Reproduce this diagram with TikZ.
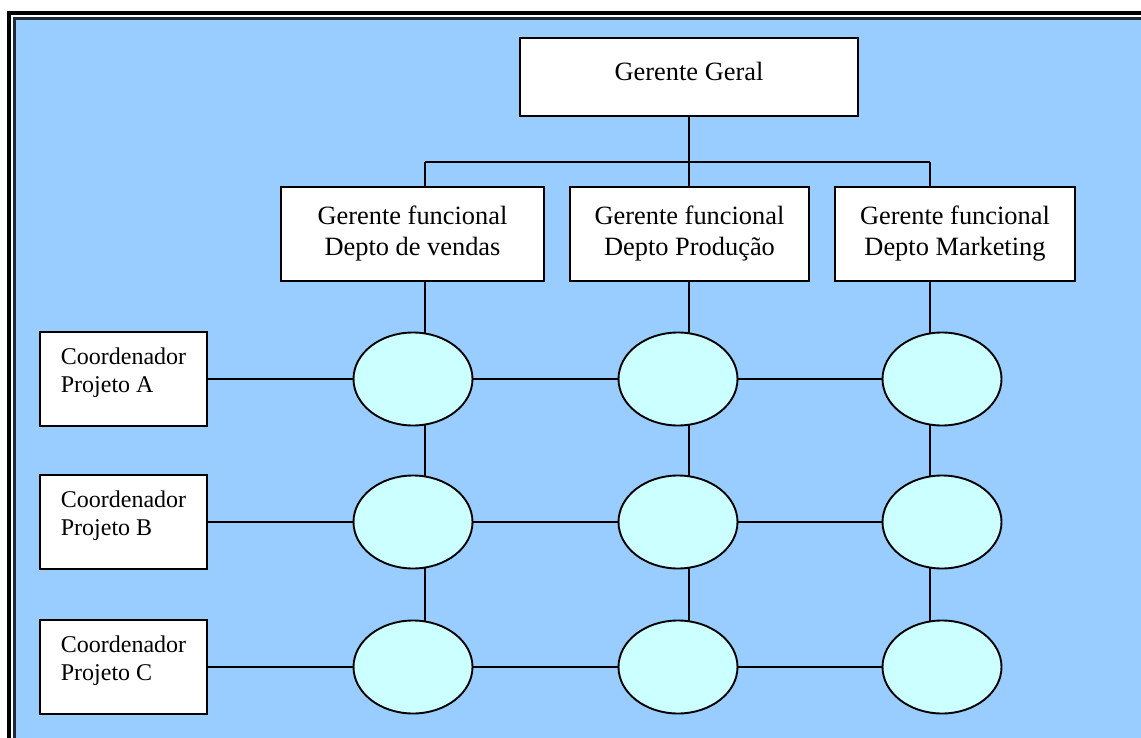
\documentclass[tikz,border=0pt]{standalone}
\usepackage{fontspec}
\setmainfont{Liberation Serif}
\usetikzlibrary{shapes.geometric,backgrounds}
\definecolor{fundo}{HTML}{99CCFF}
\definecolor{celfill}{HTML}{CCFFFF}
\definecolor{moldura}{HTML}{1F2A36}
\begin{document}
\begin{tikzpicture}[x=1pt, y=-1pt,
  caixa/.style={draw, fill=white, line width=1.9pt, inner sep=0pt, align=center, font=\fontsize{26.4}{31}\selectfont},
  coordbox/.style={draw, fill=white, line width=1.9pt, inner sep=0pt, align=left, minimum width=167pt, minimum height=94pt, text depth=17pt, font=\fontsize{24}{28}\selectfont},
  cel/.style={ellipse, draw, fill=celfill, line width=1.9pt, inner sep=0pt, minimum width=119pt, minimum height=93pt},
  liga/.style={line width=1.9pt}]
\useasboundingbox (0,0) rectangle (1141,738);
\node[caixa, minimum width=338pt, minimum height=78pt, text depth=12pt] (ger0) at (689,77){Gerente Geral};
\node[caixa, minimum width=263pt, minimum height=94pt] (dep1) at (412.5,234){Gerente funcional\\Depto de vendas};
\node[caixa, minimum width=239pt, minimum height=94pt] (dep2) at (689.5,234){Gerente funcional\\Depto Produção};
\node[caixa, minimum width=240pt, minimum height=94pt] (dep3) at (955,234){Gerente funcional\\Depto Marketing};
\node[coordbox] (prj1) at (123.5,379){Coordenador\\Projeto A};
\node[coordbox] (prj2) at (123.5,522){Coordenador\\Projeto B};
\node[coordbox] (prj3) at (123.5,667){Coordenador\\Projeto C};
\node[cel] (cel11) at (413,379){};
\node[cel] (cel12) at (678,379){};
\node[cel] (cel13) at (942,379){};
\node[cel] (cel21) at (413,522){};
\node[cel] (cel22) at (678,522){};
\node[cel] (cel23) at (942,522){};
\node[cel] (cel31) at (413,667){};
\node[cel] (cel32) at (678,667){};
\node[cel] (cel33) at (942,667){};
\coordinate (col1) at (425,162);
\coordinate (col2) at (689,162);
\coordinate (col3) at (930,162);
\begin{pgfonlayer}{background}
% fundo e moldura
\fill[fundo] (16,20) rectangle (1141,738);
\draw[line width=4pt] (9,738) -- (9,13.5) -- (1141,13.5);
\draw[moldura, line width=3pt] (14.5,738) -- (14.5,18.5) -- (1141,18.5);
% hierarquia
\draw[liga](ger0.south) -- (col2);
\draw[liga](col1) -- (col3);
\draw[liga](col1) -- (col1 |- dep1.north);
\draw[liga](col2) -- (col2 |- dep2.north);
\draw[liga](col3) -- (col3 |- dep3.north);
% colunas
\draw[liga](col1 |- dep1.south) -- (col1 |- cel31);
\draw[liga](col2 |- dep2.south) -- (col2 |- cel32);
\draw[liga](col3 |- dep3.south) -- (col3 |- cel33);
% linhas
\draw[liga](prj1) -- (cel11);
\draw[liga](cel11) -- (cel12);
\draw[liga](cel12) -- (cel13);
\draw[liga](prj2) -- (cel21);
\draw[liga](cel21) -- (cel22);
\draw[liga](cel22) -- (cel23);
\draw[liga](prj3) -- (cel31);
\draw[liga](cel31) -- (cel32);
\draw[liga](cel32) -- (cel33);
\end{pgfonlayer}
\end{tikzpicture}
\end{document}
